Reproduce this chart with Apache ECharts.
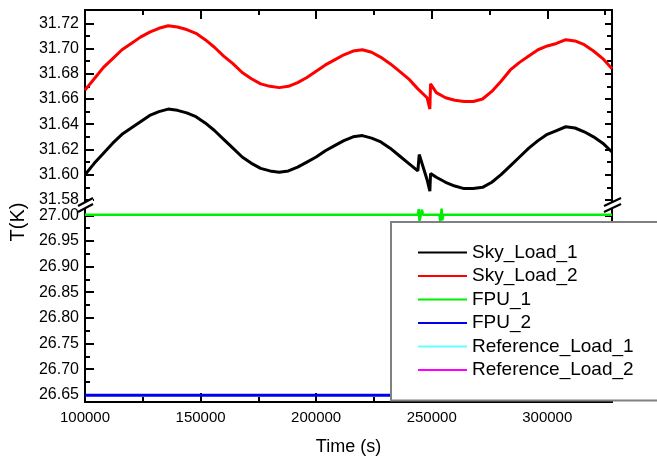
<!DOCTYPE html>
<html>
<head>
<meta charset="utf-8">
<script src="https://cdn.jsdelivr.net/npm/echarts@6/dist/echarts.min.js"></script>
<style>
  html, body { margin: 0; padding: 0; background: #fff; }
  #chart { width: 657px; height: 459px; }
</style>
</head>
<body>
<div id="chart"></div>
<script>
// time axis (s) shared by the two sky loads
const skyTime = [
  100000, 104000, 108000, 112000, 116000, 120000, 124000, 128000, 132000, 136000,
  140000, 144000, 148000, 152000, 156000, 160000, 164000, 168000, 172000, 176000,
  180000, 184000, 188000, 192000, 196000, 200000, 204000, 208000, 212000, 216000,
  220000, 224000, 228000, 232000, 236000, 240000, 244000, 244600, 248000, 249200,
  249500, 252000, 256000, 260000, 264000, 268000, 272000, 276000, 280000, 284000,
  288000, 292000, 296000, 300000, 304000, 308000, 312000, 316000, 320000, 324000,
  328000
];
const skyLoad1 = [
  31.600, 31.609, 31.617, 31.625, 31.632, 31.637, 31.642, 31.647, 31.650, 31.652,
  31.651, 31.649, 31.646, 31.641, 31.635, 31.628, 31.621, 31.614, 31.609, 31.605,
  31.603, 31.602, 31.603, 31.606, 31.610, 31.614, 31.619, 31.623, 31.627, 31.630,
  31.631, 31.629, 31.626, 31.621, 31.615, 31.609, 31.603, 31.616, 31.596, 31.587,
  31.601, 31.598, 31.594, 31.591, 31.589, 31.589, 31.590, 31.594, 31.600, 31.607,
  31.614, 31.621, 31.627, 31.632, 31.635, 31.638, 31.637, 31.634, 31.630, 31.625,
  31.618
];
const skyLoad2 = [
  31.667, 31.676, 31.685, 31.692, 31.699, 31.704, 31.709, 31.713, 31.716, 31.718,
  31.717, 31.715, 31.712, 31.707, 31.701, 31.694, 31.688, 31.681, 31.676, 31.672,
  31.670, 31.669, 31.670, 31.673, 31.677, 31.682, 31.687, 31.691, 31.695, 31.698,
  31.699, 31.697, 31.693, 31.688, 31.682, 31.676, 31.668, 31.667, 31.661, 31.652,
  31.672, 31.665, 31.661, 31.659, 31.658, 31.658, 31.660, 31.666, 31.674, 31.683,
  31.689, 31.694, 31.699, 31.702, 31.704, 31.707, 31.706, 31.703, 31.698, 31.692,
  31.684
];

// focal plane unit
const fpuTime = [100000, 150000, 200000, 244000, 244400, 244700, 245800, 246200, 253400, 253700, 254300, 254600, 255000, 300000, 328000];
const fpu1 = [27.001, 27.001, 27.001, 27.001, 27.012, 26.989, 27.011, 27.001, 27.001, 26.988, 27.013, 26.990, 27.001, 27.001, 27.001];
const fpu2 = [26.649, 26.649, 26.649, 26.649, 26.649, 26.649, 26.649, 26.649, 26.649, 26.649, 26.649, 26.649, 26.649, 26.649, 26.649];

const upperMajor = [31.58, 31.60, 31.62, 31.64, 31.66, 31.68, 31.70, 31.72];
const upperMinor = [31.59, 31.61, 31.63, 31.65, 31.67, 31.69, 31.71];
const lowerMajor = [26.65, 26.70, 26.75, 26.80, 26.85, 26.90, 26.95, 27.00];
const lowerMinor = [26.675, 26.725, 26.775, 26.825, 26.875, 26.925, 26.975];

const FONT = 'Liberation Sans, Arial, sans-serif';
const L = 85, R = 612, TOP = 10, BRK = 205, BOT = 402;

const zip = (xs, ys) => xs.map((x, i) => [x, ys[i]]);

function yAx(grid, pos, min, max, vals, len, labels) {
  return {
    type: 'value', gridIndex: grid, position: pos, min: min, max: max,
    axisLine: { show: true, onZero: false, lineStyle: { color: '#000', width: 2 } },
    axisTick: { show: true, inside: true, length: len, customValues: vals,
      lineStyle: { color: '#000', width: 2 } },
    axisLabel: { show: labels, customValues: vals, margin: 6,
      formatter: v => v.toFixed(2), color: '#000', fontSize: 16, fontFamily: FONT },
    splitLine: { show: false }
  };
}

const upMin = 31.576, upMax = 31.7305, loMin = 26.636, loMax = 27.020;

const chart = echarts.init(document.getElementById('chart'));
chart.setOption({
  animation: false,
  backgroundColor: '#fff',
  grid: [
    { left: L, width: R - L, top: TOP, height: BRK - TOP },
    { left: L, width: R - L, top: BRK, height: BOT - BRK }
  ],
  xAxis: [
    {
      type: 'value', gridIndex: 0, position: 'top', min: 100000, max: 328000, interval: 50000,
      axisLine: { show: true, onZero: false, lineStyle: { color: '#000', width: 2 } },
      axisTick: { show: true, inside: true, length: 9, lineStyle: { color: '#000', width: 2 } },
      minorTick: { show: true, splitNumber: 2, length: 5, lineStyle: { color: '#000', width: 2 } },
      axisLabel: { show: false },
      splitLine: { show: false }
    },
    {
      type: 'value', gridIndex: 1, position: 'bottom', min: 100000, max: 328000, interval: 50000,
      name: 'Time (s)', nameLocation: 'middle', nameGap: 36,
      nameTextStyle: { color: '#000', fontSize: 18, fontFamily: FONT },
      axisLine: { show: true, onZero: false, lineStyle: { color: '#000', width: 2 } },
      axisTick: { show: true, inside: true, length: 9, lineStyle: { color: '#000', width: 2 } },
      minorTick: { show: true, splitNumber: 2, length: 5, lineStyle: { color: '#000', width: 2 } },
      axisLabel: { color: '#000', fontSize: 15, fontFamily: FONT, margin: 8, showMaxLabel: false,
        formatter: v => String(v) },
      splitLine: { show: false }
    }
  ],
  yAxis: [
    yAx(0, 'left', upMin, upMax, upperMajor, 9, true),
    yAx(0, 'left', upMin, upMax, upperMinor, 5, false),
    yAx(0, 'right', upMin, upMax, upperMajor, 7, false),
    yAx(0, 'right', upMin, upMax, upperMinor, 5, false),
    yAx(1, 'left', loMin, loMax, lowerMajor, 9, true),
    yAx(1, 'left', loMin, loMax, lowerMinor, 5, false),
    yAx(1, 'right', loMin, loMax, lowerMajor, 7, false),
    yAx(1, 'right', loMin, loMax, lowerMinor, 5, false)
  ],
  legend: {
    orient: 'vertical', left: 391, top: 222,
    padding: [21, 30, 21, 27],
    icon: 'rect',
    itemWidth: 49, itemHeight: 2, itemGap: 4.5,
    backgroundColor: '#fff', borderColor: '#808080', borderWidth: 2, borderRadius: 0,
    textStyle: { color: '#000', fontSize: 19, fontFamily: FONT, lineHeight: 18 },
    data: ['Sky_Load_1', 'Sky_Load_2', 'FPU_1', 'FPU_2', 'Reference_Load_1', 'Reference_Load_2']
  },
  series: [
    { name: 'Sky_Load_1', type: 'line', xAxisIndex: 0, yAxisIndex: 0, symbol: 'none',
      color: '#000', lineStyle: { width: 3 }, data: zip(skyTime, skyLoad1) },
    { name: 'Sky_Load_2', type: 'line', xAxisIndex: 0, yAxisIndex: 0, symbol: 'none',
      color: '#ff0000', lineStyle: { width: 3 }, data: zip(skyTime, skyLoad2) },
    { name: 'FPU_1', type: 'line', xAxisIndex: 1, yAxisIndex: 4, symbol: 'none',
      color: '#00ee00', lineStyle: { width: 2.5 }, data: zip(fpuTime, fpu1) },
    { name: 'FPU_2', type: 'line', xAxisIndex: 1, yAxisIndex: 4, symbol: 'none',
      color: '#0000ee', lineStyle: { width: 3 }, data: zip(fpuTime, fpu2) },
    { name: 'Reference_Load_1', type: 'line', xAxisIndex: 1, yAxisIndex: 4, symbol: 'none',
      color: '#66ffff', lineStyle: { width: 2 }, data: [] },
    { name: 'Reference_Load_2', type: 'line', xAxisIndex: 1, yAxisIndex: 4, symbol: 'none',
      color: '#ff00ff', lineStyle: { width: 2 }, data: [] }
  ],
  graphic: [
    // axis break marks
    { type: 'polygon', z: 100, shape: { points: [[L - 7, BRK + 1], [L + 8, BRK - 7], [L + 8, BRK - 1], [L - 7, BRK + 7]] }, style: { fill: '#fff' } },
    { type: 'line', z: 101, shape: { x1: L - 7, y1: BRK + 1, x2: L + 8, y2: BRK - 7 }, style: { stroke: '#000', lineWidth: 2 } },
    { type: 'line', z: 101, shape: { x1: L - 7, y1: BRK + 7, x2: L + 8, y2: BRK - 1 }, style: { stroke: '#000', lineWidth: 2 } },
    { type: 'polygon', z: 100, shape: { points: [[R - 8, BRK + 1], [R + 9, BRK - 7], [R + 9, BRK - 1], [R - 8, BRK + 7]] }, style: { fill: '#fff' } },
    { type: 'line', z: 101, shape: { x1: R - 8, y1: BRK + 1, x2: R + 9, y2: BRK - 7 }, style: { stroke: '#000', lineWidth: 2 } },
    { type: 'line', z: 101, shape: { x1: R - 8, y1: BRK + 7, x2: R + 9, y2: BRK - 1 }, style: { stroke: '#000', lineWidth: 2 } },
    // y axis title
    { type: 'text', x: 18, y: 222, rotation: Math.PI / 2,
      style: { text: 'T(K)', font: '20px ' + FONT, fill: '#000', align: 'center', verticalAlign: 'middle' } }
  ]
});
</script>
</body>
</html>
